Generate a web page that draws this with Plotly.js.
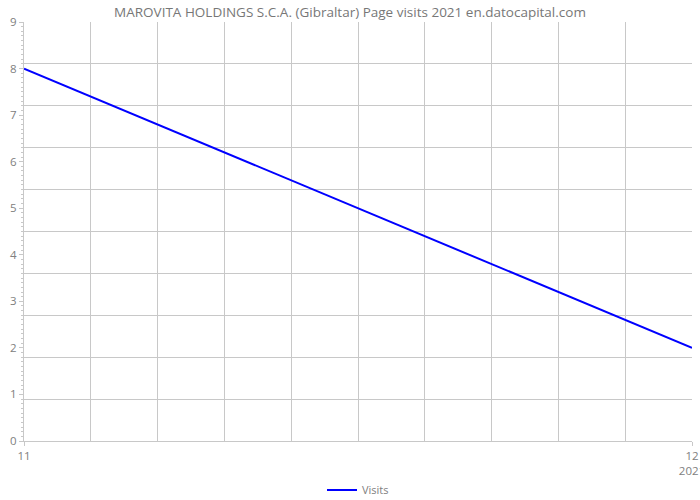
<!DOCTYPE html>
<html>
<head>
<meta charset="utf-8">
<script src="https://cdn.plot.ly/plotly-3.0.1.min.js"></script>
<style>html,body{margin:0;padding:0;background:#fff;}#chart{width:700px;height:500px;}</style>
</head>
<body>
<div id="chart"></div>
<script>
const months = [11, 12];
const visits = [8, 2];
const xTickVals = [11, 12];
const xTickText = ["11", "12<br>2021"];
const seriesName = "Visits";
const titleText = "MAROVITA HOLDINGS S.C.A. (Gibraltar) Page visits 2021 en.datocapital.com";

const grey = "#c8c8c8";
const fontColor = "#808080";
const fontFam = "'Open Sans', 'DejaVu Sans', sans-serif";

const trace = {
  x: months, y: visits, type: "scatter", mode: "lines", name: seriesName,
  line: {color: "#0000ff", width: 2}
};
const layout = {
  width: 700, height: 500,
  margin: {l: 24, r: 8, t: 22, b: 59, autoexpand: false},
  paper_bgcolor: "#fff", plot_bgcolor: "#fff",
  font: {family: fontFam, color: fontColor, size: 11},
  title: {text: titleText, x: 0.5, xanchor: "center", y: 0.985, yanchor: "top",
          font: {family: fontFam, size: 13.5, color: "#777777"}},
  showlegend: true,
  legend: {orientation: "h", x: 0.5, xanchor: "center", y: -0.117, yanchor: "middle",
           font: {family: fontFam, size: 11, color: fontColor}},
  xaxis: {
    range: [11, 12], tickmode: "array", tickvals: xTickVals, ticktext: xTickText,
    automargin: false, ticklabeloverflow: "allow",
    showgrid: false, zeroline: false, showline: true, linecolor: grey, linewidth: 1,
    ticks: "outside", ticklen: 4, tickcolor: grey,
    tickfont: {family: fontFam, size: 11.5, color: fontColor},
    minor: {dtick: 0.1, tick0: 11, showgrid: true, gridcolor: grey, gridwidth: 1, ticks: ""},
    fixedrange: true
  },
  yaxis: {
    range: [0, 9], dtick: 1, tick0: 0, showgrid: false, zeroline: false,
    automargin: false,
    showline: true, linecolor: grey, linewidth: 1,
    ticks: "outside", ticklen: 4, tickcolor: grey,
    tickfont: {family: fontFam, size: 11.5, color: fontColor},
    minor: {dtick: 0.1, tick0: 0, ticks: "outside", ticklen: 2, tickcolor: grey, showgrid: false},
    fixedrange: true
  },
  yaxis2: {
    overlaying: "y", range: [0, 9], dtick: 0.9, tick0: 0, showgrid: true, gridcolor: grey,
    gridwidth: 1, showticklabels: false, ticks: "", zeroline: false, showline: false,
    automargin: false, fixedrange: true
  }
};
const gridTrace = {x: months, y: visits, yaxis: "y2", type: "scatter", mode: "none",
  showlegend: false, hoverinfo: "skip"};
Plotly.newPlot("chart", [gridTrace, trace], layout, {displayModeBar: false, staticPlot: true});
</script>
</body>
</html>
